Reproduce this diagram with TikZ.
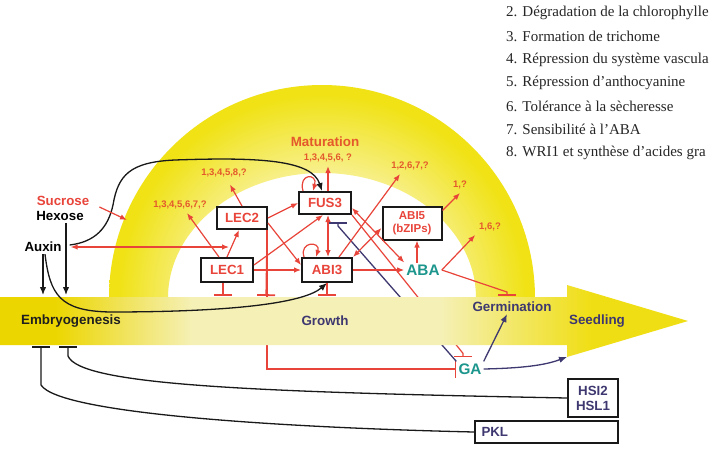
\documentclass[tikz,border=0pt]{standalone}
\usepackage{fontspec}
\setmainfont{Liberation Serif}
\setsansfont{Liberation Sans}
\usepackage{tikz}
\usetikzlibrary{arrows.meta,backgrounds}

\definecolor{RedLine}{RGB}{232,68,58}
\definecolor{NumRed}{RGB}{228,88,44}
\definecolor{AbaTeal}{RGB}{28,150,140}
\definecolor{Navy}{RGB}{62,56,112}
\definecolor{ArcYellow}{RGB}{240,226,20}
\definecolor{ArcPale}{RGB}{248,241,150}
\definecolor{BandYellow}{RGB}{236,214,0}
\definecolor{BandPale}{RGB}{245,240,182}
\definecolor{HeadYellow}{RGB}{240,222,20}

\pgfdeclarehorizontalshading{bandshade}{100bp}{color(0bp)=(BandYellow); color(29bp)=(BandYellow); color(39bp)=(BandPale); color(57bp)=(BandPale); color(68bp)=(HeadYellow); color(100bp)=(HeadYellow)}
\pgfdeclareradialshading{arcshade}{\pgfpoint{0bp}{0bp}}{color(0bp)=(white); color(14bp)=(ArcPale); color(24bp)=(ArcYellow); color(50bp)=(ArcYellow)}

\begin{document}
\begin{tikzpicture}[x=1pt,y=-1pt]
          \tikzset{
            BoxStyle/.style={draw=black!90, line width=2pt, fill=white, text=RedLine, inner sep=2pt,
              minimum height=22pt, font=\sffamily\bfseries\fontsize{13.3pt}{15pt}\selectfont},
            InLabel/.style={inner sep=2pt, font=\sffamily\bfseries\fontsize{13.3pt}{15pt}\selectfont},
            StageStyle/.style={inner sep=2pt, text=Navy, font=\sffamily\bfseries\fontsize{13.4pt}{15pt}\selectfont},
            HormStyle/.style={inner sep=2pt, text=AbaTeal, font=\sffamily\bfseries\fontsize{15.3pt}{17pt}\selectfont},
            NumStyle/.style={inner sep=1pt, outer sep=3pt, text=NumRed, font=\sffamily\bfseries\fontsize{9.5pt}{11pt}\selectfont},
            LegStyle/.style={anchor=west, inner sep=0pt, text=black!85, font=\fontsize{15pt}{18pt}\selectfont},
            RedEdge/.style={draw=RedLine, line width=1.2pt, >={Latex[length=7pt,width=5.5pt]}},
            BlackEdge/.style={draw=black!90, line width=1.3pt, >={Latex[length=8pt,width=6.5pt]}},
            NavyEdge/.style={draw=Navy, line width=1.3pt, >={Latex[length=8pt,width=6.5pt]}},
            Inhib/.style={-{Bar[width=18pt,line width=1.8pt]}}
          }
          \useasboundingbox (0,0) rectangle (709,455);

          % legend
          \foreach \i/\txt in {2/Dégradation de la chlorophylle, 3/Formation de trichome,
              4/Répression du système vascula, 5/Répression d’anthocyanine,
              6/Tolérance à la sècheresse, 7/Sensibilité à l’ABA, 8/WRI1 et synthèse d’acides gra}
            \node[LegStyle] (leg\i) at (506,{13+(\i-2)*23.3}) {\i. \txt};

          % inputs
          \node[InLabel, text=RedLine] (Sucrose) at (63,201) {Sucrose};
          \node[InLabel] (Hexose) at (60,216) {Hexose};
          \node[InLabel] (Auxin) at (43,247) {Auxin};

          % regulators
          \node[BoxStyle, minimum width=50pt] (LEC2) at (242,218) {LEC2};
          \node[BoxStyle, minimum width=52pt, minimum height=24pt] (LEC1) at (227,270) {LEC1};
          \node[BoxStyle, minimum width=52pt] (FUS3) at (325,203) {FUS3};
          \node[BoxStyle, minimum width=50pt, minimum height=24pt] (ABI3) at (327,270) {ABI3};
          \node[BoxStyle, minimum width=59pt, minimum height=33pt, align=center,
            font=\sffamily\bfseries\fontsize{11.5pt}{13pt}\selectfont] (ABI5) at (412,223) {ABI5\\(bZIPs)};
          \node[HormStyle] (ABA) at (423,270) {ABA};
          \node[HormStyle] (GA) at (470,369) {GA};
          \node[BoxStyle, text=Navy, minimum width=50pt, minimum height=38pt, align=center] (HSI) at (593,398) {HSI2\\HSL1};
          \node[BoxStyle, text=Navy, minimum width=143pt, text width=130pt, align=left] (PKL) at (546.5,432) {PKL};

          % stages
          \node[StageStyle, text=black!88] (Embryo) at (71,321) {Embryogenesis};
          \node[StageStyle] (Growth) at (325,321) {Growth};
          \node[StageStyle] (Germ) at (512,307) {Germination};
          \node[StageStyle] (Seedling) at (597,321) {Seedling};
          \node[StageStyle, text=NumRed] (Mat) at (325,142) {Maturation};

          % traits
          \node[NumStyle] (n1) at (224,173) {1,3,4,5,8,?};
          \node[NumStyle] (n2) at (180,205) {1,3,4,5,6,7,?};
          \node[NumStyle] (n3) at (328,158) {1,3,4,5,6, ?};
          \node[NumStyle] (n4) at (410,166) {1,2,6,7,?};
          \node[NumStyle] (n5) at (460,185) {1,?};
          \node[NumStyle] (n6) at (490,227) {1,6,?};

          \coordinate (tLEC1) at (223,296);
          \coordinate (tLEC2) at (266,296);
          \coordinate (tABI3) at (327,296);
          \coordinate (tGerm) at (507,296);
          \coordinate (tEmb1) at (41,346);
          \coordinate (tEmb2) at (68,346);
          \coordinate (hexEnd) at (66,295);
          \coordinate (auxEnd) at (43,295);
          \coordinate (sucEnd) at (127,220);
          \coordinate (lecJoin) at (229,247);
          \coordinate (headBase) at (567,357);

          % black edges
          \draw[BlackEdge,->] (Hexose.south -| hexEnd) -- (hexEnd);
          \draw[BlackEdge,->] (Auxin.south -| auxEnd) -- (auxEnd);
          \draw[BlackEdge,->] ([xshift=6pt,yshift=2pt]Auxin.east) .. controls (95,242) and (108,228) .. (113,205)
            .. controls (118,175) and (130,162) .. (175,160) .. controls (260,157) and (312,160) .. ([xshift=-3pt]FUS3.north);
          \draw[BlackEdge,->] ([xshift=2pt]Auxin.south) .. controls (50,295) and (60,311) .. (110,312)
            .. controls (240,312) and (305,302) .. (ABI3.south);
          \draw[BlackEdge,Inhib] (PKL.west) .. controls (300,428) and (60,415) .. (41,385) -- (tEmb1);
          \draw[BlackEdge,Inhib] (HSI.west) .. controls (250,392) and (80,385) .. (68,356) -- (tEmb2);

          % red edges
          \draw[RedEdge,->] ([xshift=8pt,yshift=-6pt]Sucrose.east) -- (sucEnd);
          \draw[RedEdge,<->] ([xshift=7pt]Auxin.east) -- (lecJoin);
          \draw[RedEdge,->] (LEC1.north) -- ([xshift=-3pt]LEC2.south);
          \draw[RedEdge,->] ([xshift=-8pt]LEC1.north) -- ([xshift=7pt]n2.south);
          \draw[RedEdge,->,shorten >=4pt] (LEC2.north) -- ([xshift=4pt]n1.south);
          \draw[RedEdge,->] (LEC2.east) -- (FUS3.west);
          \draw[RedEdge,->] ([yshift=-5pt]LEC2.east) -- ([yshift=5pt]ABI3.west);
          \draw[RedEdge,Inhib] ([xshift=-1pt]LEC2.south east) -- (tLEC2);
          \draw[RedEdge,->] ([yshift=5pt]LEC1.east) -- ([xshift=-2pt]FUS3.south);
          \draw[RedEdge,->] (LEC1.east) -- (ABI3.west);
          \draw[RedEdge,Inhib] ([xshift=-4pt]LEC1.south) -- (tLEC1);
          \draw[RedEdge,->] ([xshift=5pt]FUS3.north west) .. controls +(-5,-18) and +(5,-18) .. ([xshift=15pt]FUS3.north west);
          \draw[RedEdge,->] ([xshift=3pt]ABI3.north west) .. controls +(-5,-16) and +(5,-16) .. ([xshift=15pt]ABI3.north west);
          \draw[RedEdge,<->] ([xshift=3pt]FUS3.south) -- ([xshift=1pt]ABI3.north);
          \draw[RedEdge,->] ([xshift=3pt]FUS3.north) -- (n3.south);
          \draw[RedEdge,<->] ([yshift=-5pt]FUS3.east) -- (ABA.north west);
          \draw[RedEdge,->] ([xshift=12pt]ABI3.north) -- ([xshift=-10pt]n4.south);
          \draw[RedEdge,<->] (ABI3.north east) -- ([yshift=-5pt]ABI5.west);
          \draw[RedEdge,->] (ABI3.east) -- (ABA.west);
          \draw[RedEdge,Inhib] (ABI3.south) -- (tABI3);
          \draw[RedEdge,->] ([xshift=-6pt]ABA.north) -- ([xshift=5pt]ABI5.south);
          \draw[RedEdge,->] (ABA.east) -- (n6.south west);
          \draw[RedEdge,Inhib] (ABA.east) -- ([yshift=4pt]tGerm) -- (tGerm);
          \draw[RedEdge,->] ([yshift=-5pt]ABI5.north east) -- (n5.south);

          % GA edges
          \draw[NavyEdge,->] (GA.north east) -- ([xshift=-5pt]Germ.south);
          \draw[NavyEdge,->] (GA.east) .. controls (530,368) and (548,364) .. (headBase);

          \begin{scope}[on background layer]
            \fill[white] (0,0) rectangle (709,455);
            % maturation arc
            \begin{scope}
              \clip (109,298) arc[start angle=180, end angle=360, radius=213] -- (476,298)
                arc[start angle=360, end angle=180, x radius=154, y radius=125] -- cycle;
              \shade[shading=arcshade] (322,298) circle[radius=213];
            \end{scope}
            % edges passing behind the band
            \draw[RedEdge,Inhib] ([xshift=-1pt]LEC2.south east) |- (GA.west);
            \draw[RedEdge,Inhib] (FUS3.south east) -- ([xshift=-7pt,yshift=8pt]GA.north) -- ([xshift=-7pt,yshift=4pt]GA.north);
            \draw[NavyEdge,Inhib] (GA.north west) -- ([xshift=13pt,yshift=-11pt]FUS3.south) -- ([xshift=13pt,yshift=-7pt]FUS3.south);
            % time arrow
            \shade[shading=bandshade] (0,297) -- (567,297) -- (567,285) -- (688,321) -- (567,357) -- (567,345) -- (0,345) -- cycle;
          \end{scope}
        \end{tikzpicture}
\end{document}
